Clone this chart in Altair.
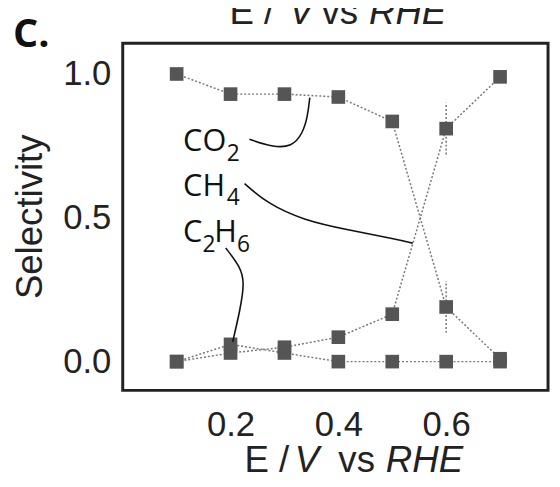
import altair as alt
import pandas as pd

# ---- data ----
potential = [0.1, 0.2, 0.3, 0.4, 0.5, 0.6, 0.7]
co2 = [1.00, 0.93, 0.93, 0.92, 0.835, 0.19, 0.01]
ch4 = [0.00, 0.03, 0.05, 0.085, 0.165, 0.81, 0.99]
c2h6 = [0.00, 0.06, 0.03, 0.00, 0.00, 0.00, 0.00]

err_x = [0.6, 0.6]
err_lo = [0.10, 0.72]
err_hi = [0.28, 0.90]

x_ticks = [0.2, 0.4, 0.6]
y_ticks = [0.0, 0.5, 1.0]

# label annotations (data coordinates)
lab_text = ["CO", "CH", "C", "H"]
lab_x = [0.112, 0.112, 0.112, 0.170]
lab_y = [0.732, 0.577, 0.416, 0.416]
sub_text = ["2", "4", "2", "6"]
sub_x = [0.193, 0.193, 0.148, 0.212]
sub_y = [0.698, 0.543, 0.381, 0.381]

# leader curves (data coordinates)
lead_id = ["co2"] * 6 + ["ch4"] * 6 + ["c2h6"] * 5
lead_x = [0.235, 0.277, 0.314, 0.334, 0.343, 0.347,
          0.226, 0.268, 0.336, 0.420, 0.506, 0.538,
          0.191, 0.218, 0.226, 0.218, 0.204]
lead_y = [0.773, 0.746, 0.746, 0.794, 0.852, 0.918,
          0.619, 0.550, 0.491, 0.457, 0.426, 0.412,
          0.395, 0.330, 0.275, 0.182, 0.069]

# ---- tables ----
rows = []
for name, vals in [("CO2", co2), ("CH4", ch4), ("C2H6", c2h6)]:
    for x, v in zip(potential, vals):
        rows.append({"E": x, "S": v, "series": name})
df = pd.DataFrame(rows)
err = pd.DataFrame({"E": err_x, "lo": err_lo, "hi": err_hi})
labs = pd.DataFrame({"t": lab_text, "x": lab_x, "y": lab_y})
subs = pd.DataFrame({"t": sub_text, "x": sub_x, "y": sub_y})
lead = pd.DataFrame({"id": lead_id, "x": lead_x, "y": lead_y,
                     "o": list(range(len(lead_x)))})
one = pd.DataFrame({"k": [0]})

xs = alt.Scale(domain=[0, 0.789], nice=False, zero=False)
ys = alt.Scale(domain=[-0.1, 1.107], nice=False, zero=False)

axis_font = "Liberation Sans"

x_axis = alt.Axis(
    values=x_ticks, format=".1f", title=None, grid=False, ticks=False,
    tickSize=0, domain=False, labelFont=axis_font, labelFontSize=35,
    labelColor="#222", labelPadding=18)
y_axis = alt.Axis(
    values=y_ticks, format=".1f", title="Selectivity", grid=False,
    ticks=False, tickSize=0, domain=False, labelFont=axis_font,
    labelFontSize=35, labelColor="#222", labelPadding=12,
    titleFont=axis_font, titleFontSize=37, titleFontWeight="normal",
    titleColor="#222", titleAngle=270, titleBaseline="alphabetic",
    titleAlign="center", titleX=-82, titleY=175)


def X(f):
    return alt.X(f, scale=xs, axis=x_axis)


def Y(f):
    return alt.Y(f, scale=ys, axis=y_axis)


lines = alt.Chart(df).mark_line(
    color="#777", strokeWidth=1.5, strokeDash=[2, 2]
).encode(x=X("E:Q"), y=Y("S:Q"), detail="series:N", order="E:Q")

errs = alt.Chart(err).mark_rule(
    color="#777", strokeWidth=1.5, strokeDash=[2, 2]
).encode(x=X("E:Q"), y=Y("lo:Q"), y2="hi:Q")

points = alt.Chart(df).mark_point(
    shape="square", filled=True, size=190, color="#555", opacity=1
).encode(x=X("E:Q"), y=Y("S:Q"))

leaders = alt.Chart(lead).mark_line(
    color="#111", strokeWidth=1.6, interpolate="basis"
).encode(x=X("x:Q"), y=Y("y:Q"), detail="id:N", order="o:Q")

main_labels = alt.Chart(labs).mark_text(
    font="Open Sans", fontSize=31, align="left", baseline="alphabetic",
    color="#111"
).encode(x=X("x:Q"), y=Y("y:Q"), text="t:N")

sub_labels = alt.Chart(subs).mark_text(
    font="Open Sans", fontSize=23, align="left", baseline="alphabetic",
    color="#111"
).encode(x=X("x:Q"), y=Y("y:Q"), text="t:N")


def piece(text, px, py, italic=False, size=37, font=axis_font, bold=False):
    kw = dict(text=text, font=font, fontSize=size, align="left",
              baseline="alphabetic", color="#222")
    if italic:
        kw["fontStyle"] = "italic"
    if bold:
        kw["fontWeight"] = "bold"
        kw["color"] = "#111"
    return alt.Chart(one).mark_text(**kw).encode(
        x=alt.value(px), y=alt.value(py))


# x-axis title (bottom) and the cut-off title of the panel above (top)
bottom_y = 434
top_y = -19
texts = [
    piece("E /", 123, bottom_y), piece("V", 174, bottom_y, italic=True),
    piece("vs", 218, bottom_y), piece("RHE", 266, bottom_y, italic=True),
    piece("E /", 108, top_y), piece("V", 168, top_y, italic=True),
    piece("vs", 201, top_y), piece("RHE", 249, top_y, italic=True),
    piece("C.", -111, 4, size=40, font="Open Sans", bold=True),
]

chart = alt.layer(
    lines, errs, points, leaders, main_labels, sub_labels, *texts
).properties(
    width=430, height=351,
    autosize=alt.AutoSizeParams(type="none"),
    padding={"left": 116, "top": 33, "right": 4, "bottom": 87},
    background="white",
).configure_view(
    stroke="#222", strokeWidth=3
)

chart.save("out.html", embed_options={"renderer": "svg", "actions": False})
